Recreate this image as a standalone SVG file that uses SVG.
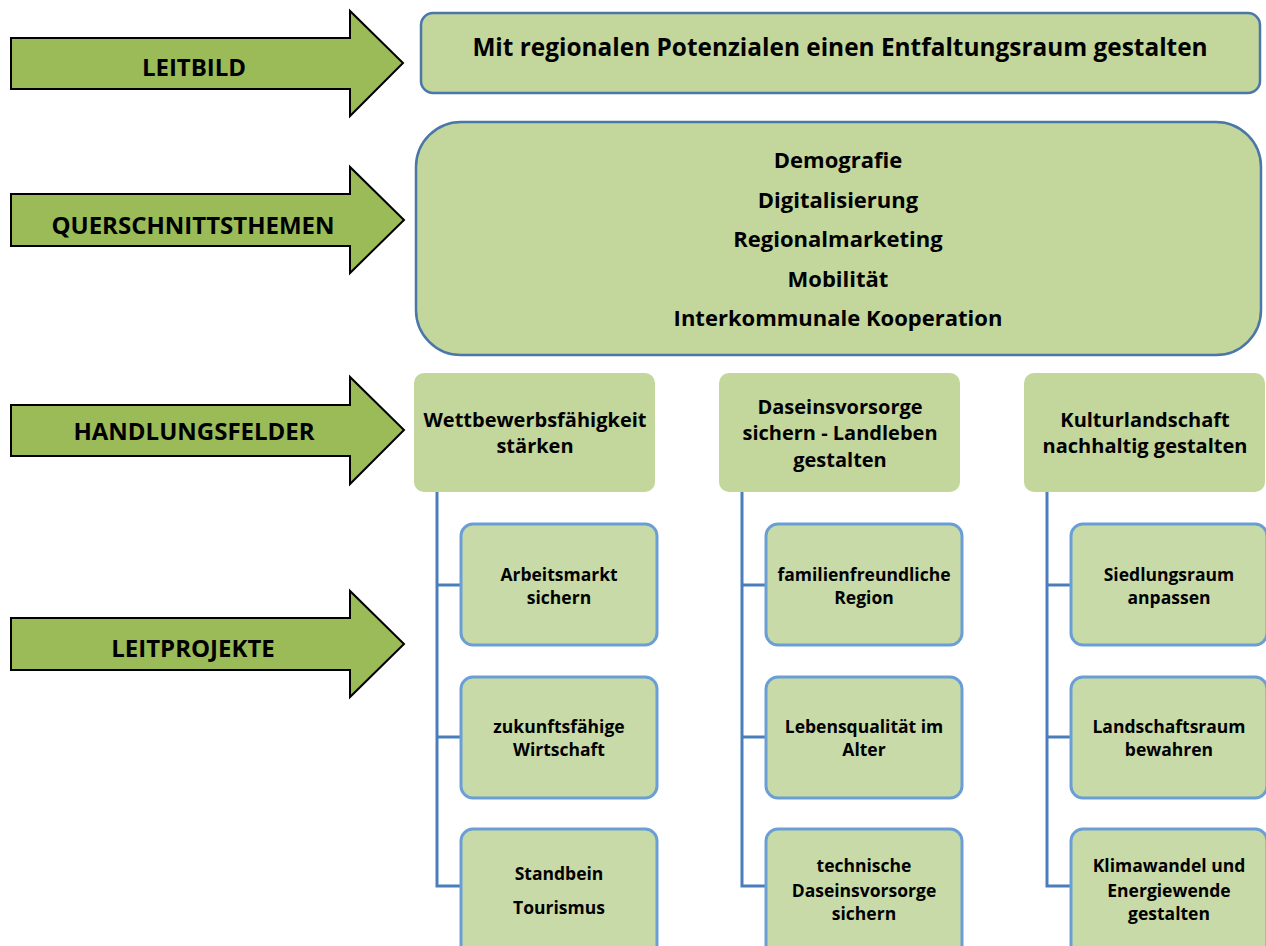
<svg xmlns="http://www.w3.org/2000/svg" width="1266" height="946" viewBox="0 0 1266 946">
<style>
.arrow{fill:#9bbb59;stroke:#000;stroke-width:2;stroke-linejoin:miter}
.lbl{font-family:"Open Sans",Lato,"Liberation Sans",sans-serif;font-weight:bold;fill:#000;text-anchor:middle}
.al{font-size:24px}
.top{fill:#c3d69b;stroke:#4a76a8;stroke-width:2.5}
.hf{fill:#c3d69b}
.lp{fill:#c8daa7;stroke:#6a9fd6;stroke-width:3}
.t22{font-size:24.4px}
.t21{font-size:22px}
.t18{font-size:20px}
.t16{font-size:17.5px}
.conn{fill:none;stroke:#4a7ebb;stroke-width:3}
</style>
<rect width="1266" height="946" fill="#fff"/>
<g id="arrow-leitbild">
<polygon class="arrow" points="11,38 350,38 350,11 403,63 350,116 350,89 11,89"/>
<text class="lbl al" x="194" y="76">LEITBILD</text>
</g>
<g id="arrow-querschnitt">
<polygon class="arrow" points="11,194 350,194 350,167 404,220 350,273 350,246 11,246"/>
<text class="lbl al" x="193" y="234">QUERSCHNITTSTHEMEN</text>
</g>
<g id="arrow-handlungsfelder">
<polygon class="arrow" points="11,405 350,405 350,377 404,430 350,484 350,456 11,456"/>
<text class="lbl al" x="194" y="440">HANDLUNGSFELDER</text>
</g>
<g id="arrow-leitprojekte">
<polygon class="arrow" points="11,618 350,618 350,591 404,644 350,697 350,670 11,670"/>
<text class="lbl al" x="193" y="657">LEITPROJEKTE</text>
</g>
<g id="leitbild">
<rect class="top" x="421" y="13" width="839" height="80" rx="12"/>
<text class="lbl t22" x="840" y="56">Mit regionalen Potenzialen einen Entfaltungsraum gestalten</text>
</g>
<g id="querschnittsthemen">
<rect class="top" x="416" y="122" width="845" height="233" rx="45"/>
<text class="lbl t21" x="838" y="168">Demografie</text>
<text class="lbl t21" x="838" y="208">Digitalisierung</text>
<text class="lbl t21" x="838" y="247">Regionalmarketing</text>
<text class="lbl t21" x="838" y="287">Mobilität</text>
<text class="lbl t21" x="838" y="326">Interkommunale Kooperation</text>
</g>
<g id="connectors">
<path class="conn" d="M437,492 V886 H461 M437,585 H461 M437,737 H461"/>
<path class="conn" d="M742,492 V886 H766 M742,585 H766 M742,737 H766"/>
<path class="conn" d="M1047,492 V886 H1071 M1047,585 H1071 M1047,737 H1071"/>
</g>
<g id="hf-wettbewerb">
<rect class="hf" x="414" y="373" width="241" height="119" rx="10"/>
<text class="lbl t18" x="535" y="427">Wettbewerbsfähigkeit</text>
<text class="lbl t18" x="535" y="453">stärken</text>
</g>
<g id="hf-daseinsvorsorge">
<rect class="hf" x="719" y="373" width="241" height="119" rx="10"/>
<text class="lbl t18" x="840" y="414">Daseinsvorsorge</text>
<text class="lbl t18" x="840" y="440">sichern - Landleben</text>
<text class="lbl t18" x="840" y="467">gestalten</text>
</g>
<g id="hf-kulturlandschaft">
<rect class="hf" x="1024" y="373" width="241" height="119" rx="10"/>
<text class="lbl t18" x="1145" y="427">Kulturlandschaft</text>
<text class="lbl t18" x="1145" y="453">nachhaltig gestalten</text>
</g>
<g id="lp-arbeitsmarkt">
<rect class="lp" x="461" y="524" width="196" height="121" rx="12"/>
<text class="lbl t16" x="559" y="581">Arbeitsmarkt</text>
<text class="lbl t16" x="559" y="604">sichern</text>
</g>
<g id="lp-wirtschaft">
<rect class="lp" x="461" y="677" width="196" height="121" rx="12"/>
<text class="lbl t16" x="559" y="733">zukunftsfähige</text>
<text class="lbl t16" x="559" y="756">Wirtschaft</text>
</g>
<g id="lp-tourismus">
<rect class="lp" x="461" y="829" width="196" height="130" rx="12"/>
<text class="lbl t16" x="559" y="880">Standbein</text>
<text class="lbl t16" x="559" y="914">Tourismus</text>
</g>
<g id="lp-familie">
<rect class="lp" x="766" y="524" width="196" height="121" rx="12"/>
<text class="lbl t16" x="864" y="581">familienfreundliche</text>
<text class="lbl t16" x="864" y="604">Region</text>
</g>
<g id="lp-alter">
<rect class="lp" x="766" y="677" width="196" height="121" rx="12"/>
<text class="lbl t16" x="864" y="733">Lebensqualität im</text>
<text class="lbl t16" x="864" y="756">Alter</text>
</g>
<g id="lp-technik">
<rect class="lp" x="766" y="829" width="196" height="130" rx="12"/>
<text class="lbl t16" x="864" y="872">technische</text>
<text class="lbl t16" x="864" y="897">Daseinsvorsorge</text>
<text class="lbl t16" x="864" y="920">sichern</text>
</g>
<g id="lp-siedlung">
<rect class="lp" x="1071" y="524" width="196" height="121" rx="12"/>
<text class="lbl t16" x="1169" y="581">Siedlungsraum</text>
<text class="lbl t16" x="1169" y="604">anpassen</text>
</g>
<g id="lp-landschaft">
<rect class="lp" x="1071" y="677" width="196" height="121" rx="12"/>
<text class="lbl t16" x="1169" y="733">Landschaftsraum</text>
<text class="lbl t16" x="1169" y="756">bewahren</text>
</g>
<g id="lp-klima">
<rect class="lp" x="1071" y="829" width="196" height="130" rx="12"/>
<text class="lbl t16" x="1169" y="872">Klimawandel und</text>
<text class="lbl t16" x="1169" y="897">Energiewende</text>
<text class="lbl t16" x="1169" y="920">gestalten</text>
</g>
</svg>
